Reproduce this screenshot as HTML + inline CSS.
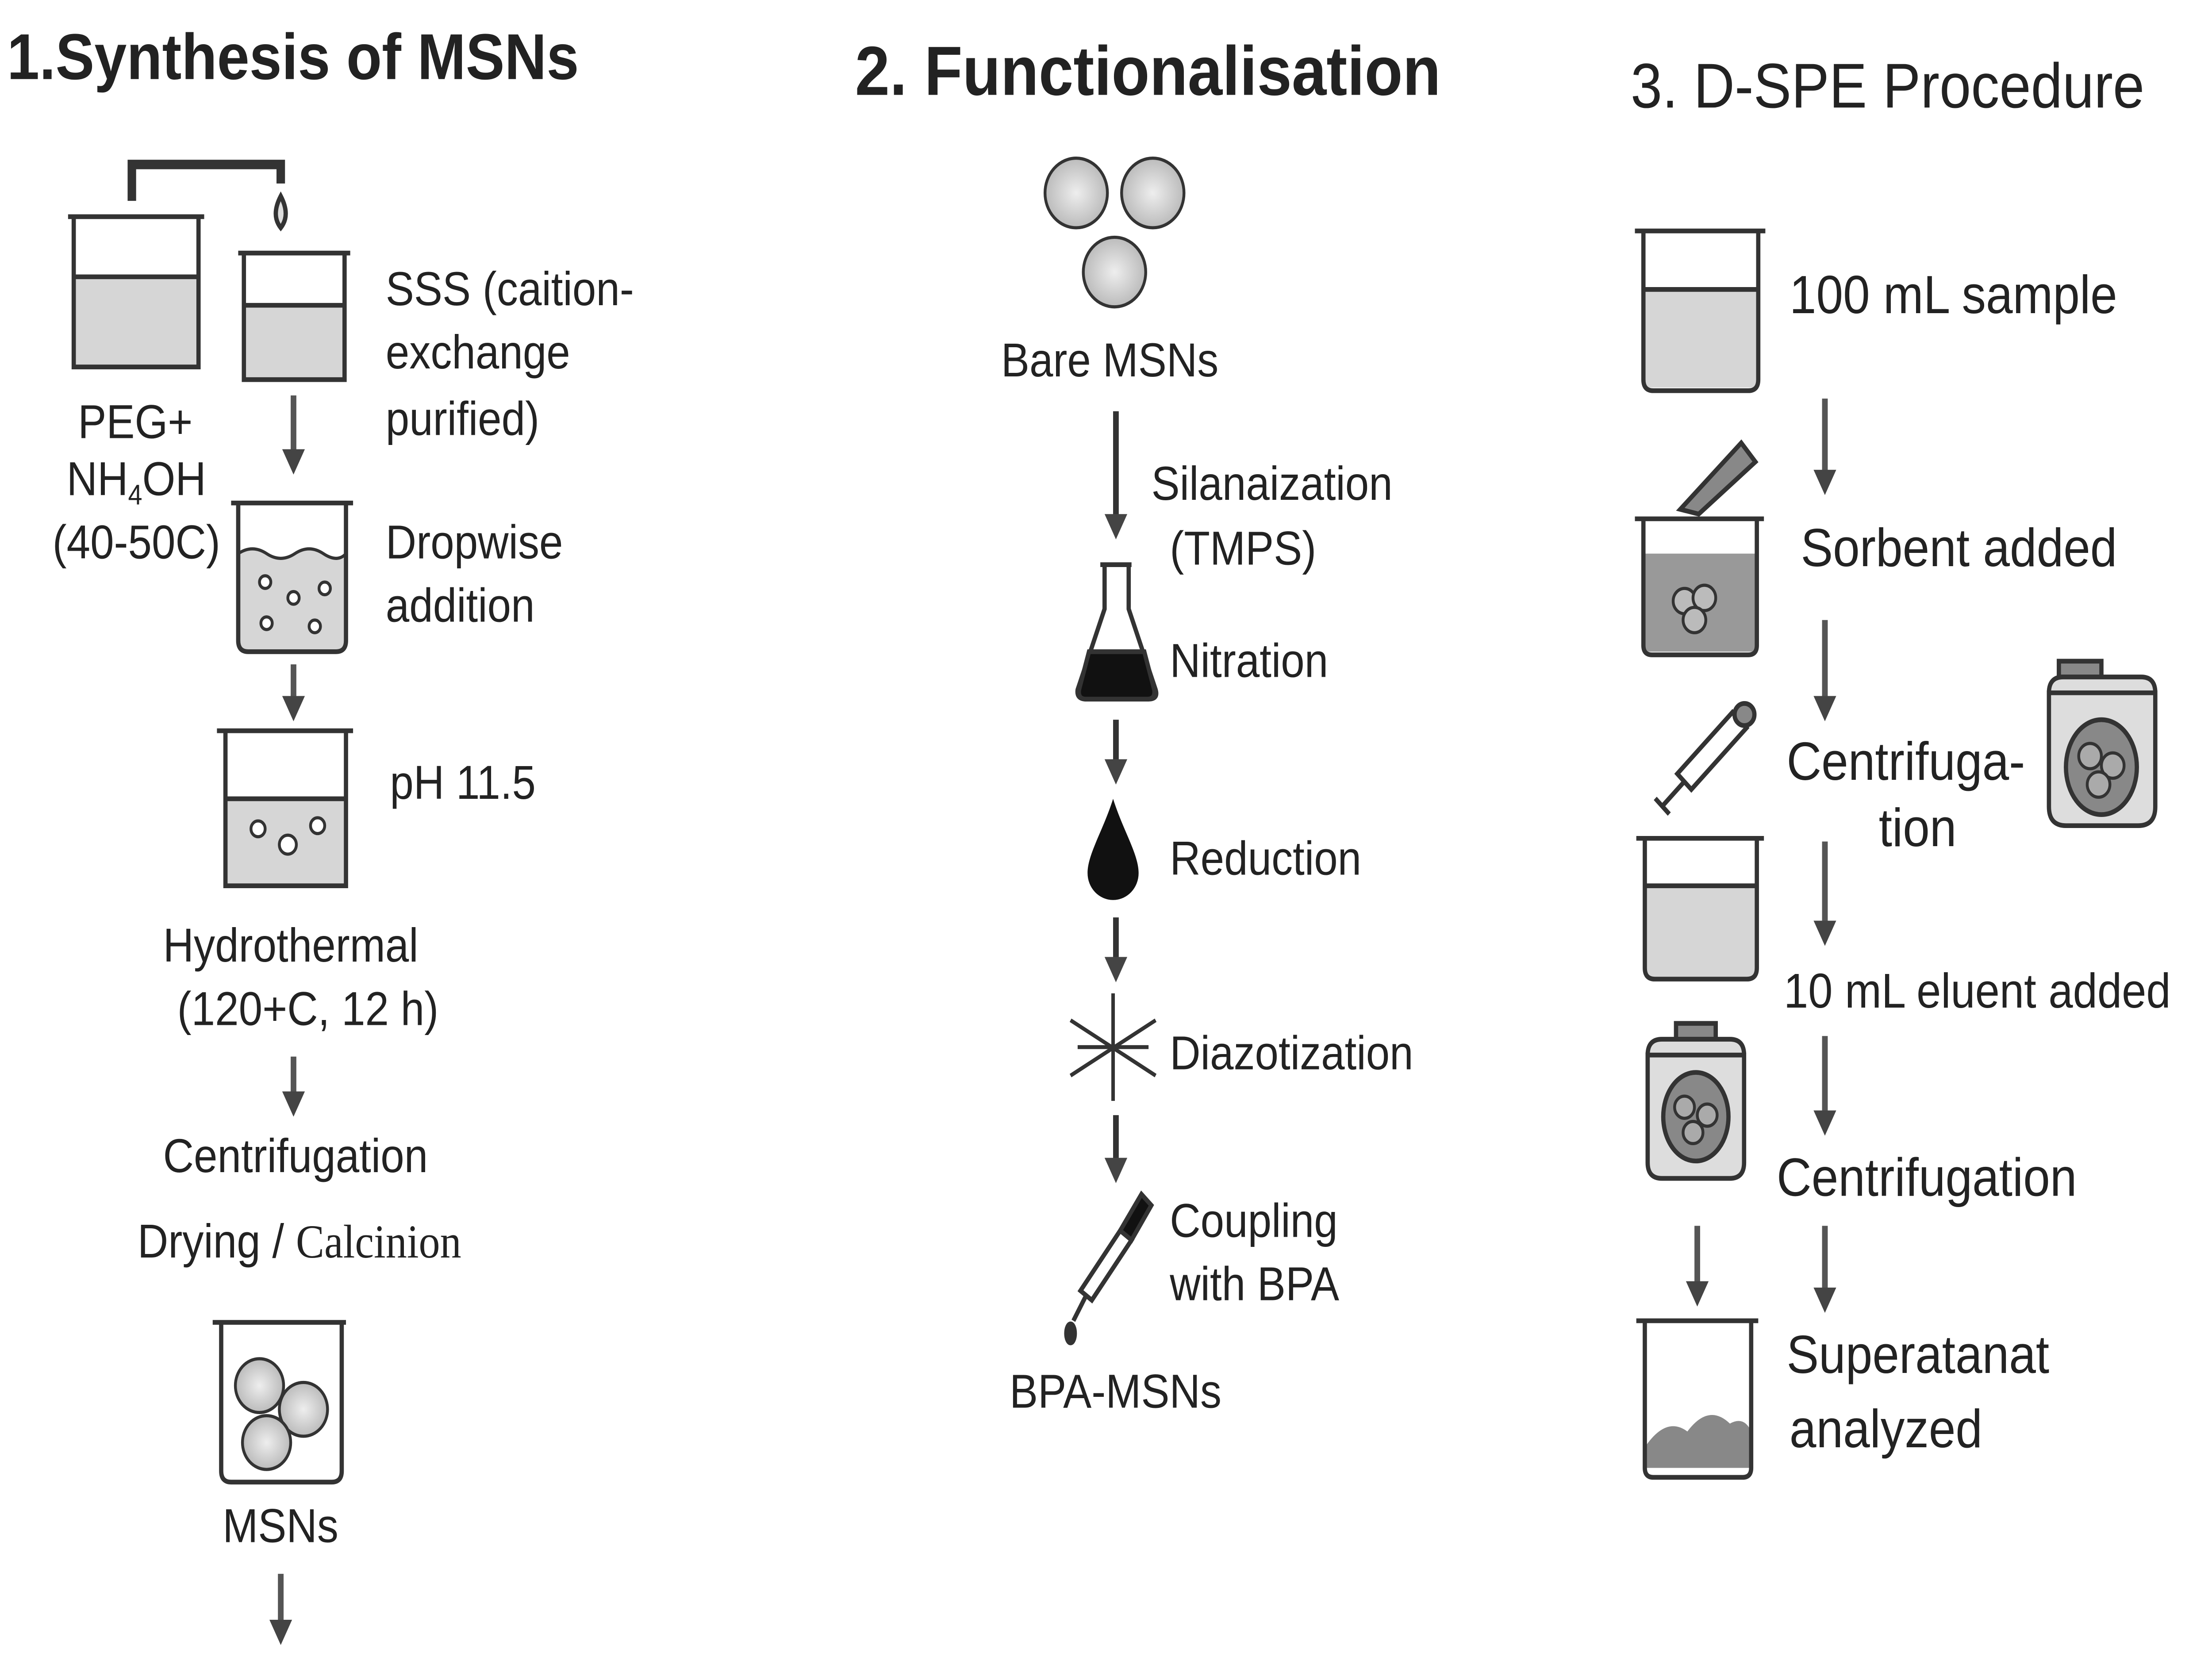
<!DOCTYPE html>
<html><head><meta charset="utf-8"><style>
html,body{margin:0;padding:0;background:#fff;width:100%;height:100%;overflow:hidden;}
svg{display:block;width:100vw;height:100vh;}
text{font-family:"Liberation Sans",sans-serif;fill:#222;}
</style></head><body>
<svg viewBox="0 0 1560 1052" preserveAspectRatio="none" xmlns="http://www.w3.org/2000/svg">
<defs>
<marker id="ah" markerWidth="4" markerHeight="4" refX="2" refY="2" orient="auto" markerUnits="strokeWidth">
<path d="M0,0 L4,2 L0,4 Z" fill="#444"/></marker>
<radialGradient id="sp" cx="50%" cy="50%" r="50%"><stop offset="0" stop-color="#eee"/><stop offset="1" stop-color="#bbb"/></radialGradient>
</defs>
<rect width="1560" height="1052" fill="#fff"/>
<g stroke="#333" stroke-width="3" fill="none">
<path d="M93,127 V104 H198 V116" stroke-width="6"/>
<path d="M198,124 q-7,12 0,20 q7,-8 0,-20z" fill="#ddd"/>
<rect x="52" y="175" width="88" height="57" fill="#d6d6d6" stroke="none"/>
<path d="M48,137 H144 M52,137 V232 H140 V137 M52,175 H140"/>
<rect x="172" y="193" width="71" height="47" fill="#d6d6d6" stroke="none"/>
<path d="M168,160 H247 M172,160 V240 H243 V160 M172,193 H243"/>
<line x1="207" y1="250" x2="207" y2="292" marker-end="url(#ah)" stroke="#555" stroke-width="4"/>
<path d="M168,350 q10,-6 20,0 t20,0 t20,0 t16,0 V405 q0,7 -8,7 H175 q-7,0 -7,-7Z" fill="#d6d6d6" stroke="none"/>
<path d="M163,318 H249 M168,318 V405 q0,7 7,7 H237 q7,0 7,-7 V318"/>
<path d="M168,350 q10,-6 20,0 t20,0 t20,0 t16,0" stroke-width="2"/>
<g stroke-width="2" fill="#fff"><circle cx="187" cy="368" r="4"/><circle cx="207" cy="378" r="4"/><circle cx="229" cy="372" r="4"/><circle cx="188" cy="394" r="4"/><circle cx="222" cy="396" r="4"/></g>
<line x1="207" y1="420" x2="207" y2="448" marker-end="url(#ah)" stroke="#555" stroke-width="4"/>
<rect x="159" y="505" width="85" height="55" fill="#d6d6d6" stroke="none"/>
<path d="M153,462 H249 M159,462 V560 H244 V462 M159,505 H244"/>
<g stroke-width="2" fill="#fff"><circle cx="182" cy="524" r="5"/><circle cx="203" cy="534" r="6"/><circle cx="224" cy="522" r="5"/></g>
<line x1="207" y1="668" x2="207" y2="698" marker-end="url(#ah)" stroke="#555" stroke-width="4"/>
<path d="M150,836 H244 M156,836 V930 q0,7 7,7 H234 q7,0 7,-7 V836"/>
<g stroke-width="2" fill="url(#sp)"><circle cx="183" cy="876" r="17"/><circle cx="214" cy="891" r="17"/><circle cx="188" cy="912" r="17"/></g>
<line x1="198" y1="995" x2="198" y2="1032" marker-end="url(#ah)" stroke="#555" stroke-width="4"/>
<g stroke-width="2" fill="url(#sp)"><circle cx="759" cy="122" r="22"/><circle cx="813" cy="122" r="22"/><circle cx="786" cy="172" r="22"/></g>
<line x1="787" y1="260" x2="787" y2="333" marker-end="url(#ah)" stroke="#333" stroke-width="4"/>
<path d="M776,357 H798 M779,357 V385 L760,436 q-1,6 6,6 H810 q7,0 5,-6 L796,385 V357"/>
<path d="M768,412 H807 L814,436 q1,6 -5,6 H766 q-6,0 -5,-6Z" fill="#111"/>
<line x1="787" y1="455" x2="787" y2="488" marker-end="url(#ah)" stroke="#333" stroke-width="4"/>
<path d="M785,505 C778,525 767,540 767,552 a18,17 0 0 0 36,0 C803,540 792,525 785,505Z" fill="#111" stroke="none"/>
<line x1="787" y1="580" x2="787" y2="613" marker-end="url(#ah)" stroke="#333" stroke-width="4"/>
<g stroke-width="2.5"><line x1="785" y1="628" x2="785" y2="696"/><line x1="755" y1="645" x2="815" y2="680"/><line x1="755" y1="680" x2="815" y2="645"/><line x1="760" y1="662" x2="810" y2="662"/></g>
<line x1="787" y1="705" x2="787" y2="740" marker-end="url(#ah)" stroke="#333" stroke-width="4"/>
<path d="M805,755 L812,762 L798,784 L790,778Z" fill="#111"/>
<path d="M790,778 L798,784 L770,822 L762,816Z" fill="#fff"/>
<line x1="766" y1="819" x2="757" y2="835"/>
<ellipse cx="755" cy="843" rx="3" ry="6" fill="#333"/>
<rect x="1159" y="183" width="81" height="62" fill="#d6d6d6" stroke="none"/>
<path d="M1153,146 H1245 M1159,146 V240 q0,7 7,7 H1233 q7,0 7,-7 V146 M1159,183 H1240"/>
<line x1="1287" y1="252" x2="1287" y2="305" marker-end="url(#ah)" stroke="#555" stroke-width="4"/>
<path d="M1185,322 L1228,280 L1238,292 L1198,325Z" fill="#888"/>
<rect x="1159" y="350" width="80" height="62" fill="#999" stroke="none"/>
<path d="M1153,328 H1244 M1159,328 V408 q0,6 6,6 H1233 q6,0 6,-6 V328"/>
<g stroke-width="2" fill="#bbb"><circle cx="1188" cy="380" r="8"/><circle cx="1202" cy="378" r="8"/><circle cx="1195" cy="392" r="8"/></g>
<line x1="1287" y1="392" x2="1287" y2="448" marker-end="url(#ah)" stroke="#555" stroke-width="4"/>
<g transform="rotate(45 1202 480)"><rect x="1195" y="445" width="14" height="55" fill="#fff"/><circle cx="1202" cy="440" r="7" fill="#888"/><line x1="1202" y1="500" x2="1202" y2="522"/><line x1="1195" y1="522" x2="1209" y2="522"/></g>
<rect x="1452" y="418" width="30" height="10" fill="#888"/>
<path d="M1445,438 H1520 V510 q0,12 -12,12 H1457 q-12,0 -12,-12Z M1445,438 q0,-10 10,-10 H1510 q10,0 10,10" fill="#ddd"/>
<ellipse cx="1482" cy="485" rx="25" ry="30" fill="#888"/>
<g stroke-width="2" fill="#aaa"><circle cx="1474" cy="478" r="8"/><circle cx="1490" cy="484" r="8"/><circle cx="1480" cy="496" r="8"/></g>
<rect x="1160" y="560" width="79" height="58" fill="#d6d6d6" stroke="none"/>
<path d="M1154,530 H1244 M1160,530 V612 q0,7 7,7 H1232 q7,0 7,-7 V530 M1160,560 H1239"/>
<line x1="1287" y1="532" x2="1287" y2="590" marker-end="url(#ah)" stroke="#555" stroke-width="4"/>
<rect x="1182" y="647" width="28" height="10" fill="#888"/>
<path d="M1162,667 H1230 V735 q0,10 -10,10 H1172 q-10,0 -10,-10Z M1162,667 q0,-10 10,-10 H1220 q10,0 10,10" fill="#ddd"/>
<ellipse cx="1196" cy="706" rx="23" ry="28" fill="#888"/>
<g stroke-width="2" fill="#aaa"><circle cx="1188" cy="700" r="7"/><circle cx="1204" cy="705" r="7"/><circle cx="1194" cy="716" r="7"/></g>
<line x1="1287" y1="655" x2="1287" y2="710" marker-end="url(#ah)" stroke="#555" stroke-width="4"/>
<line x1="1197" y1="775" x2="1197" y2="818" marker-end="url(#ah)" stroke="#555" stroke-width="4"/>
<line x1="1287" y1="775" x2="1287" y2="822" marker-end="url(#ah)" stroke="#555" stroke-width="4"/>
<path d="M1160,915 q15,-20 30,-10 q15,-18 30,-5 q10,-5 15,5 V928 H1160Z" fill="#888" stroke="none"/>
<path d="M1154,835 H1240 M1160,835 V928 q0,6 6,6 H1229 q6,0 6,-6 V835"/>
</g>
<g font-size="30">
<text x="5" y="50" font-size="41" font-weight="bold" fill="#333">1.Synthesis of MSNs</text>
<text x="272" y="193">SSS (caition-</text>
<text x="272" y="233">exchange</text>
<text x="272" y="275">purified)</text>
<text x="55" y="277">PEG+</text>
<text x="47" y="313">NH<tspan font-size="18" dy="6">4</tspan><tspan dy="-6">OH</tspan></text>
<text x="37" y="353">(40-50C)</text>
<text x="272" y="353">Dropwise</text>
<text x="272" y="393">addition</text>
<text x="275" y="505">pH 11.5</text>
<text x="115" y="608">Hydrothermal</text>
<text x="125" y="648">(120+C, 12 h)</text>
<text x="115" y="741">Centrifugation</text>
<text x="97" y="795">Drying / <tspan font-family="Liberation Serif, serif">Calcinion</tspan></text>
<text x="157" y="975">MSNs</text>
<text x="603" y="60" font-size="44" font-weight="bold" fill="#333">2. Functionalisation</text>
<text x="706" y="238">Bare MSNs</text>
<text x="812" y="316">Silanaization</text>
<text x="825" y="357">(TMPS)</text>
<text x="825" y="428">Nitration</text>
<text x="825" y="553">Reduction</text>
<text x="825" y="676">Diazotization</text>
<text x="825" y="782">Coupling</text>
<text x="825" y="822">with BPA</text>
<text x="712" y="890">BPA-MSNs</text>
<text x="1150" y="68" font-size="40" fill="#333">3. D-SPE Procedure</text>
<text x="1262" y="198" font-size="34">100 mL sample</text>
<text x="1270" y="358" font-size="34">Sorbent added</text>
<text x="1260" y="493" font-size="34">Centrifuga-</text>
<text x="1325" y="535" font-size="34">tion</text>
<text x="1258" y="637" font-size="31">10 mL eluent added</text>
<text x="1253" y="756" font-size="34">Centrifugation</text>
<text x="1260" y="868" font-size="34">Superatanat</text>
<text x="1262" y="915" font-size="34">analyzed</text>
</g>
</svg>
</body></html>
